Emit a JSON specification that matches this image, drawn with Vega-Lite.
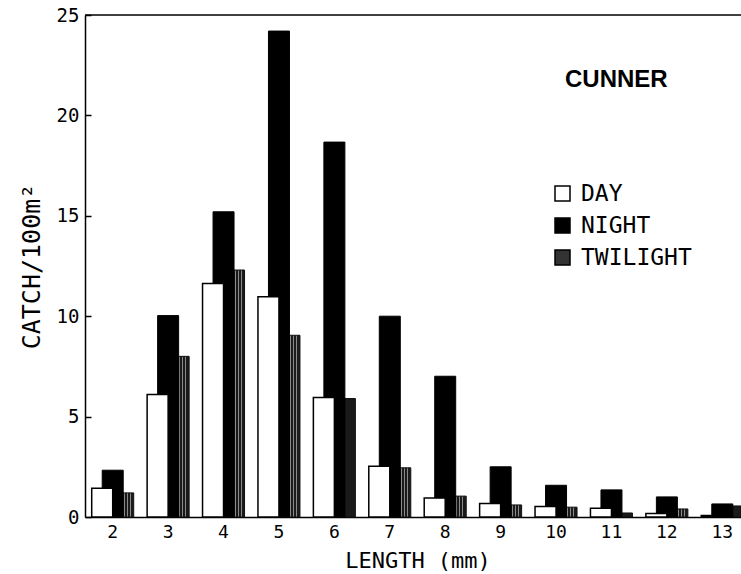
{
  "$schema": "https://vega.github.io/schema/vega-lite/v6.json",
  "width": 656,
  "height": 502,
  "autosize": "none",
  "padding": {"left": 85, "top": 15, "right": 0, "bottom": 57},
  "background": "white",
  "config": {
    "view": {"stroke": null},
    "axis": {"domainColor": "black", "domainWidth": 1.5, "labelColor": "black", "titleColor": "black", "labelFont": "DejaVu Sans Mono", "titleFont": "DejaVu Sans Mono", "titleFontWeight": "normal", "grid": false}
  },
  "title": {"text": "CUNNER", "anchor": "start", "frame": "group", "font": "Liberation Sans", "fontWeight": "bold", "fontSize": 24, "color": "black", "offset": 0, "dx": 480, "dy": 86},
  "data": {"values": [
    {"length": 2, "period": "DAY", "catch": 1.43}, {"length": 2, "period": "NIGHT", "catch": 2.33}, {"length": 2, "period": "TWILIGHT", "catch": 1.2},
    {"length": 3, "period": "DAY", "catch": 6.1}, {"length": 3, "period": "NIGHT", "catch": 10.03}, {"length": 3, "period": "TWILIGHT", "catch": 8.0},
    {"length": 4, "period": "DAY", "catch": 11.63}, {"length": 4, "period": "NIGHT", "catch": 15.2}, {"length": 4, "period": "TWILIGHT", "catch": 12.3},
    {"length": 5, "period": "DAY", "catch": 10.97}, {"length": 5, "period": "NIGHT", "catch": 24.2}, {"length": 5, "period": "TWILIGHT", "catch": 9.05},
    {"length": 6, "period": "DAY", "catch": 5.95}, {"length": 6, "period": "NIGHT", "catch": 18.67}, {"length": 6, "period": "TWILIGHT", "catch": 5.9},
    {"length": 7, "period": "DAY", "catch": 2.53}, {"length": 7, "period": "NIGHT", "catch": 10.0}, {"length": 7, "period": "TWILIGHT", "catch": 2.45},
    {"length": 8, "period": "DAY", "catch": 0.94}, {"length": 8, "period": "NIGHT", "catch": 7.01}, {"length": 8, "period": "TWILIGHT", "catch": 1.04},
    {"length": 9, "period": "DAY", "catch": 0.67}, {"length": 9, "period": "NIGHT", "catch": 2.5}, {"length": 9, "period": "TWILIGHT", "catch": 0.6},
    {"length": 10, "period": "DAY", "catch": 0.52}, {"length": 10, "period": "NIGHT", "catch": 1.58}, {"length": 10, "period": "TWILIGHT", "catch": 0.49},
    {"length": 11, "period": "DAY", "catch": 0.44}, {"length": 11, "period": "NIGHT", "catch": 1.35}, {"length": 11, "period": "TWILIGHT", "catch": 0.2},
    {"length": 12, "period": "DAY", "catch": 0.18}, {"length": 12, "period": "NIGHT", "catch": 1.0}, {"length": 12, "period": "TWILIGHT", "catch": 0.4},
    {"length": 13, "period": "DAY", "catch": 0.08}, {"length": 13, "period": "NIGHT", "catch": 0.65}, {"length": 13, "period": "TWILIGHT", "catch": 0.55}
  ]},
  "layer": [
    {
      "transform": [{"filter": "datum.period === 'TWILIGHT'"}],
      "mark": {"type": "bar", "width": 21, "xOffset": 10.5, "stroke": "#111", "strokeWidth": 1,
        "fill": {"gradient": "linear", "x1": 0, "x2": 1, "y1": 0, "y2": 0, "stops": [
          {"offset": 0, "color": "#1a1a1a"}, {"offset": 0.105, "color": "#1a1a1a"}, {"offset": 0.105, "color": "#8a8a8a"}, {"offset": 0.143, "color": "#8a8a8a"},
          {"offset": 0.143, "color": "#1a1a1a"}, {"offset": 0.248, "color": "#1a1a1a"}, {"offset": 0.248, "color": "#8a8a8a"}, {"offset": 0.286, "color": "#8a8a8a"},
          {"offset": 0.286, "color": "#1a1a1a"}, {"offset": 0.391, "color": "#1a1a1a"}, {"offset": 0.391, "color": "#8a8a8a"}, {"offset": 0.429, "color": "#8a8a8a"},
          {"offset": 0.429, "color": "#1a1a1a"}, {"offset": 0.534, "color": "#1a1a1a"}, {"offset": 0.534, "color": "#8a8a8a"}, {"offset": 0.571, "color": "#8a8a8a"},
          {"offset": 0.571, "color": "#1a1a1a"}, {"offset": 0.677, "color": "#1a1a1a"}, {"offset": 0.677, "color": "#8a8a8a"}, {"offset": 0.714, "color": "#8a8a8a"},
          {"offset": 0.714, "color": "#1a1a1a"}, {"offset": 0.82, "color": "#1a1a1a"}, {"offset": 0.82, "color": "#8a8a8a"}, {"offset": 0.857, "color": "#8a8a8a"},
          {"offset": 0.857, "color": "#1a1a1a"}, {"offset": 1, "color": "#1a1a1a"}
        ]}},
      "encoding": {
        "x": {"field": "length", "type": "ordinal", "scale": {"type": "band", "range": [0, 665], "paddingInner": 0, "paddingOuter": 0},
          "axis": {"title": "LENGTH (mm)", "labelAngle": 0, "ticks": false, "tickSize": 0, "labelFontSize": 18, "labelPadding": 6, "titleFontSize": 22, "titlePadding": 9}},
        "y": {"field": "catch", "type": "quantitative", "scale": {"domain": [0, 25], "nice": false},
          "axis": {"title": "CATCH/100m²", "values": [0, 5, 10, 15, 20, 25], "tickSize": -6, "tickColor": "black", "tickWidth": 1.5, "labelFontSize": 19, "labelPadding": 12, "titleFontSize": 25, "titlePadding": 12}}
      }
    },
    {
      "transform": [{"filter": "datum.period === 'NIGHT'"}],
      "mark": {"type": "bar", "width": 21, "xOffset": 0, "stroke": "black", "strokeWidth": 1},
      "encoding": {
        "x": {"field": "length", "type": "ordinal"},
        "y": {"field": "catch", "type": "quantitative"},
        "fill": {"field": "period", "type": "nominal", "scale": {"domain": ["DAY", "NIGHT", "TWILIGHT"], "range": ["white", "black", "#333333"]},
          "legend": {"orient": "none", "legendX": 466, "legendY": 167, "title": null, "padding": 0, "symbolType": "square", "symbolSize": 225, "symbolStrokeColor": "black", "symbolStrokeWidth": 1.5, "labelFont": "DejaVu Sans Mono", "labelFontSize": 23, "labelColor": "black", "labelOffset": 7, "rowPadding": 8}}
      }
    },
    {
      "transform": [{"filter": "datum.period === 'DAY'"}],
      "mark": {"type": "bar", "width": 21, "xOffset": -10.5, "stroke": "black", "strokeWidth": 1.5},
      "encoding": {
        "x": {"field": "length", "type": "ordinal"},
        "y": {"field": "catch", "type": "quantitative"},
        "fill": {"field": "period", "type": "nominal"}
      }
    },
    {
      "data": {"values": [{"top": 25}]},
      "mark": {"type": "rule", "color": "black", "strokeWidth": 1.5},
      "encoding": {"y": {"field": "top", "type": "quantitative"}}
    }
  ]
}
